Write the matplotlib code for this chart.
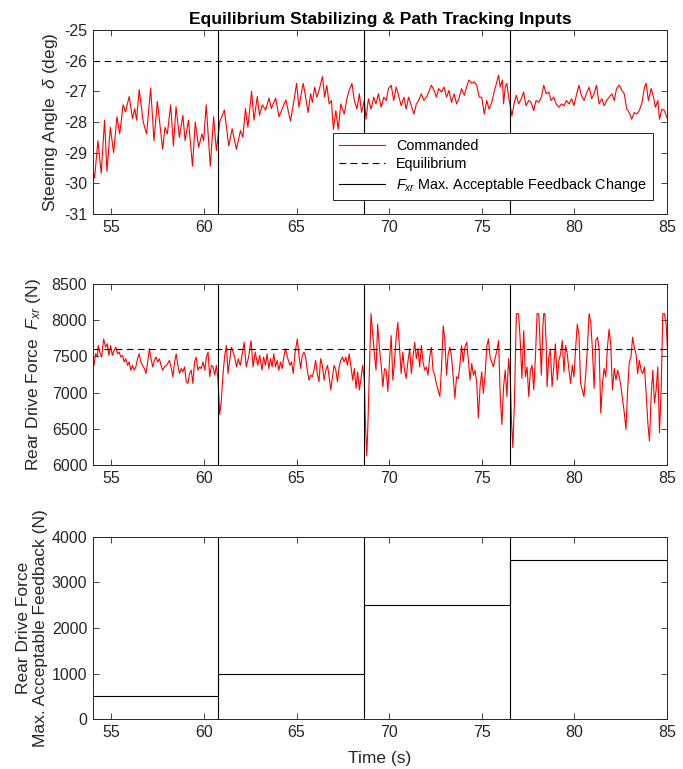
import matplotlib
matplotlib.use('Agg')
import matplotlib.pyplot as plt

plt.rcParams['font.family'] = ['Liberation Sans', 'DejaVu Sans']
plt.rcParams['mathtext.fontset'] = 'custom'
plt.rcParams['mathtext.rm'] = 'Liberation Sans'
plt.rcParams['mathtext.it'] = 'Liberation Sans:italic'
plt.rcParams['axes.unicode_minus'] = False

# times where the max. acceptable feedback change switches
breaks = [60.75, 68.65, 76.55]
steer_eq = -26.0
force_eq = 7600.0
limit_t = [54.0, 60.75, 68.65, 76.55, 85.0]
limit_n = [500, 1000, 2500, 3500, 3500]

steer_t = [
    54.00, 54.09, 54.27, 54.45, 54.63, 54.76, 54.94, 55.12, 55.30, 55.45,
    55.63, 55.76, 55.96, 56.14, 56.26, 56.36, 56.50, 56.72, 56.90, 57.12,
    57.30, 57.48, 57.77, 57.89, 58.02, 58.20, 58.35, 58.49, 58.67, 58.86,
    58.98, 59.16, 59.38, 59.53, 59.71, 59.89, 59.98, 60.12, 60.34, 60.52,
    60.67, 60.85, 61.10, 61.34, 61.52, 61.75, 61.97, 62.10, 62.24, 62.37,
    62.57, 62.70, 62.88, 63.00, 63.15, 63.33, 63.51, 63.64, 63.87, 64.05,
    64.42,
    64.67, 64.86, 65.00, 65.13, 65.25, 65.36, 65.49, 65.62, 65.76, 65.85,
    65.98, 66.09, 66.21, 66.40, 66.52, 66.63, 66.76, 66.88, 66.99, 67.12,
    67.25, 67.39, 67.57, 67.72, 67.84, 67.99, 68.12, 68.26, 68.39, 68.51,
    68.66, 68.75, 68.88, 69.02, 69.17, 69.29, 69.42, 69.57, 69.71, 69.84,
    69.96, 70.11, 70.25, 70.38, 70.51, 70.65, 70.80, 70.92, 71.05, 71.20,
    71.34, 71.47, 71.59, 71.74, 71.88, 72.01, 72.14, 72.28, 72.43, 72.55,
    72.68, 72.83, 72.97, 73.10, 73.23, 73.37, 73.51, 73.64, 73.77, 73.91,
    74.06, 74.18, 74.31, 74.46, 74.60, 74.73, 74.86,
    75.00, 75.14, 75.27, 75.40, 75.54, 75.69, 75.82, 75.91, 76.00, 76.12,
    76.18, 76.27, 76.36, 76.45, 76.54, 76.63, 76.76, 76.87, 76.99, 77.14,
    77.26, 77.39, 77.54, 77.66, 77.81, 77.93, 78.08, 78.22, 78.35, 78.48,
    78.62, 78.75, 78.89, 79.02, 79.17, 79.31, 79.44, 79.57, 79.71, 79.86,
    79.98, 80.11, 80.25, 80.38, 80.53, 80.65, 80.80, 80.94, 81.07, 81.20,
    81.34, 81.49, 81.61, 81.74, 81.88, 82.03, 82.16, 82.28, 82.43, 82.57,
    82.70, 82.83, 82.97, 83.10, 83.24, 83.37, 83.51, 83.66, 83.79, 83.88,
    84.00, 84.15, 84.28, 84.38, 84.51, 84.60, 84.73, 84.87, 85.00, 85.11,
]
steer_deg = [
    -29.56, -29.83, -28.61, -29.67, -27.94, -29.61, -28.17, -29.00, -27.83, -28.39,
    -27.44, -27.67, -27.17, -27.89, -27.56, -27.94, -26.94, -28.00, -28.39, -26.89,
    -28.61, -27.33, -28.89, -28.17, -28.39, -27.44, -28.78, -27.50, -28.50, -27.78,
    -28.61, -27.94, -29.44, -28.00, -28.83, -28.39, -28.61, -27.44, -29.44, -27.83,
    -28.94, -28.00, -27.61, -28.78, -28.22, -28.89, -28.28, -28.50, -27.56, -28.17,
    -27.00, -27.94, -27.17, -27.78, -27.44, -27.61, -27.22, -27.56, -27.22, -27.83,
    -27.28,
    -27.97, -27.30, -26.74, -27.52, -27.08, -26.74, -27.19, -27.69, -27.08, -27.36,
    -26.86, -27.19, -26.97, -26.52, -27.19, -26.80, -27.41, -27.30, -28.24, -27.63,
    -28.24, -27.41, -27.74, -27.24, -26.97, -26.74, -27.30, -27.58, -27.08, -27.69,
    -27.30, -27.91, -27.24, -27.58, -27.19, -27.41, -27.08, -27.52, -27.19, -27.30,
    -26.91, -26.80, -27.30, -26.86, -27.13, -27.47, -27.19, -27.58, -27.19, -27.47,
    -27.74, -27.41, -27.30, -27.08, -27.30, -27.19, -27.02, -26.80, -26.97, -27.19,
    -26.91, -27.02, -26.86, -27.19, -26.97, -27.36, -27.08, -27.41, -27.24, -26.91,
    -27.13, -26.86, -26.63, -26.74, -26.69, -26.80, -27.19,
    -27.19, -27.74, -27.30, -27.58, -27.36, -26.97, -26.69, -26.47, -26.86, -26.63,
    -27.41, -26.86, -26.74, -27.19, -27.47, -27.80, -27.36, -27.13, -27.41, -27.24,
    -27.02, -27.47, -27.30, -27.36, -27.63, -27.30, -27.36, -27.19, -26.80, -27.08,
    -27.02, -27.30, -27.19, -27.41, -27.52, -27.41, -27.47, -27.30, -27.41, -27.24,
    -27.47, -27.13, -26.80, -27.13, -27.30, -27.08, -26.86, -27.24, -27.08, -26.80,
    -27.41, -27.24, -27.47, -27.30, -27.19, -27.08, -27.30, -26.91, -26.80, -26.97,
    -27.08, -27.58, -27.69, -27.91, -27.69, -27.74, -27.63, -27.36, -26.86, -26.74,
    -27.30, -26.91, -27.19, -27.52, -27.30, -27.91, -27.58, -27.63, -27.86, -27.97,
]

force_t = [
    53.97, 54.06, 54.15, 54.24, 54.29, 54.37, 54.47, 54.58, 54.69, 54.78,
    54.87, 54.96, 55.05, 55.14, 55.24, 55.33, 55.42, 55.51, 55.60, 55.69,
    55.78, 55.87, 55.96, 56.05, 56.14, 56.23, 56.32, 56.41, 56.50, 56.59,
    56.68, 56.78, 56.87, 56.96, 57.05, 57.14, 57.23, 57.32, 57.41, 57.50,
    57.59, 57.68, 57.77, 57.86, 57.99, 58.13, 58.22, 58.32, 58.41, 58.50,
    58.59, 58.68, 58.77, 58.86, 58.95, 59.04, 59.13, 59.22, 59.31, 59.40,
    59.49, 59.58, 59.67, 59.76, 59.85, 59.95, 60.04, 60.13, 60.22, 60.31,
    60.40, 60.49, 60.58, 60.67, 60.76, 60.85, 60.94, 61.03, 61.12, 61.21,
    61.30, 61.39, 61.48, 61.58, 61.67, 61.76, 61.85,
    61.96, 62.05, 62.17, 62.28, 62.41, 62.54, 62.65, 62.77, 62.90, 63.01,
    63.13, 63.22, 63.32, 63.41, 63.50, 63.59, 63.68, 63.77, 63.86, 63.95,
    64.04, 64.13, 64.22, 64.31, 64.40, 64.53, 64.64, 64.73, 64.82, 64.91,
    65.04, 65.13, 65.22, 65.31, 65.40, 65.49, 65.58, 65.67, 65.76, 65.85,
    65.94, 66.03, 66.12, 66.21, 66.30, 66.39, 66.49, 66.58, 66.67, 66.76,
    66.85, 66.94, 67.03, 67.12, 67.21, 67.30, 67.39, 67.48, 67.57, 67.66,
    67.75, 67.84, 67.93, 68.03, 68.12, 68.21, 68.30, 68.39, 68.48, 68.57,
    68.66, 68.71, 68.79, 68.84, 68.93, 69.02, 69.11, 69.20, 69.29, 69.38,
    69.47, 69.57, 69.66, 69.75,
    69.84, 69.93, 70.02, 70.11, 70.20, 70.29, 70.38, 70.47, 70.56, 70.65,
    70.74, 70.83, 70.92, 71.01, 71.11, 71.20, 71.29, 71.38, 71.47, 71.56,
    71.65, 71.74, 71.83, 71.92, 72.01, 72.10, 72.19, 72.28, 72.37, 72.46,
    72.55, 72.64, 72.74, 72.83, 72.92, 73.01, 73.10, 73.19, 73.28, 73.37,
    73.46, 73.55, 73.64, 73.73, 73.82, 73.91, 74.00, 74.09, 74.19, 74.28,
    74.37, 74.46, 74.55, 74.64, 74.73, 74.82, 74.91, 75.00, 75.09, 75.18,
    75.27, 75.36, 75.45, 75.54, 75.63, 75.72, 75.82, 75.91, 76.00, 76.09,
    76.18, 76.27, 76.36, 76.45, 76.54, 76.61, 76.68, 76.77, 76.87, 76.99,
    77.08, 77.17, 77.27, 77.36, 77.45, 77.54, 77.63,
    77.72, 77.81, 77.90, 77.99, 78.08, 78.17, 78.22, 78.30, 78.35, 78.41,
    78.48, 78.53, 78.62, 78.71, 78.80, 78.89, 78.98, 79.08, 79.17, 79.26,
    79.35, 79.44, 79.53, 79.62, 79.71, 79.80, 79.89, 79.98, 80.07, 80.16,
    80.25, 80.34, 80.43, 80.52, 80.62, 80.71, 80.80, 80.89, 80.98, 81.07,
    81.16, 81.25, 81.34, 81.43, 81.52, 81.61, 81.70, 81.79, 81.88, 81.97,
    82.06, 82.16, 82.25, 82.34, 82.43, 82.52, 82.61, 82.70, 82.79, 82.88,
    82.97, 83.06, 83.15, 83.24, 83.33, 83.42, 83.51, 83.61, 83.70, 83.79,
    83.88, 83.97, 84.06, 84.15, 84.24, 84.33, 84.42, 84.51, 84.60, 84.69,
    84.78, 84.87, 84.96, 85.05, 85.14,
]
force_n = [
    7423, 7377, 7536, 7491, 7650, 7559, 7491, 7741, 7627, 7673,
    7514, 7650, 7514, 7582, 7627, 7536, 7559, 7491, 7514, 7423,
    7468, 7377, 7423, 7309, 7377, 7309, 7355, 7468, 7536, 7423,
    7377, 7332, 7264, 7423, 7605, 7468, 7355, 7445, 7491, 7423,
    7468, 7377, 7309, 7355, 7377, 7445, 7355, 7218, 7423, 7536,
    7377, 7264, 7332, 7286, 7355, 7150, 7127, 7264, 7309, 7127,
    7423, 7491, 7309, 7355, 7332, 7423, 7309, 7491, 7559, 7218,
    7377, 7355, 7241, 7377, 7173, 6696, 6900, 7264, 7514, 7650,
    7264, 7445, 7627, 7559, 7468, 7355, 7468,
    7377, 7514, 7695, 7355, 7491, 7718, 7355, 7559, 7377, 7514,
    7309, 7491, 7377, 7536, 7332, 7468, 7355, 7536, 7355, 7445,
    7309, 7423, 7332, 7491, 7605, 7468, 7377, 7423, 7264, 7536,
    7741, 7514, 7332, 7514, 7559, 7491, 7309, 7173, 7241, 7218,
    7309, 7445, 7264, 7150, 7468, 7377, 7173, 7309, 7377, 7218,
    7036, 7218, 7377, 7309, 7150, 7355, 7445, 7491, 7423, 7491,
    7377, 7536, 7377, 7173, 7332, 7059, 7286, 7036, 7195, 7377,
    7173, 6673, 6127, 6445, 7264, 8090, 7809, 7536, 7309, 7945,
    7627, 7377, 7082, 7332,
    7309, 7014, 7445, 7786, 7173, 7423, 7764, 7968, 7605, 7264,
    7559, 7309, 7195, 7423, 7605, 7264, 7491, 7695, 7468, 7605,
    7355, 7650, 7423, 7309, 7355, 7241, 7491, 7627, 7309, 7241,
    7127, 7036, 6945, 7355, 7923, 7718, 7241, 7536, 7627, 7491,
    7218, 6923, 7218, 7195, 7377, 7650, 7423, 7627, 7695, 7445,
    7173, 7400, 7241, 7309, 7127, 6650, 7082, 7286, 6991, 7241,
    7627, 7741, 7491, 7423, 7355, 7468, 7582, 7718, 6945, 6559,
    7082, 7309, 6945, 7468, 7218, 6582, 6241, 6900, 8090, 8090,
    7718, 7195, 7855, 7218, 7355, 6945, 7309,
    7377, 7036, 7491, 8090, 8090, 7582, 7241, 7900, 8090, 8090,
    7673, 7082, 7491, 7582, 7082, 7355, 7673, 7173, 7445, 7536,
    7718, 7286, 7650, 7536, 7309, 7127, 7377, 7218, 7605, 7945,
    7809, 7127, 7036, 6945, 7264, 7627, 8090, 7968, 7582, 7059,
    7718, 7764, 7605, 6718, 7127, 7332, 7218, 7627, 7877, 7650,
    7036, 7332, 7173, 7309, 7218, 7082, 6900, 6718, 6491, 7036,
    7423, 7491, 7764, 7627, 7536, 7264, 7445, 7309, 7264, 7355,
    6991, 6582, 6332, 6945, 7309, 6855, 7036, 7355, 6445, 7036,
    8090, 8090, 7945, 7491, 7059,
]

fig = plt.figure(figsize=(6.83, 7.69), dpi=100)
ax1 = fig.add_axes([0.136, 0.7217, 0.8404, 0.2393])
ax2 = fig.add_axes([0.136, 0.3953, 0.8404, 0.2354])
ax3 = fig.add_axes([0.136, 0.0650, 0.8404, 0.2367])

dark = '#262626'
for ax in (ax1, ax2, ax3):
    ax.set_xlim(54, 85)
    ax.set_xticks(range(55, 86, 5))
    ax.tick_params(direction='in', top=True, right=True, length=4, width=0.6,
                   labelsize=11.5, colors=dark, pad=4)
    for s in ax.spines.values():
        s.set_color(dark)
        s.set_linewidth(0.7)

# steering angle
ax1.plot(steer_t, steer_deg, color='red', lw=0.8, label='Commanded')
ax1.axhline(steer_eq, color='k', ls=(0, (6, 4)), lw=0.8, label='Equilibrium')
for i, b in enumerate(breaks):
    ax1.axvline(b, color='k', lw=0.8,
                label=r'$F_{xr}$ Max. Acceptable Feedback Change' if i == 0 else None)
ax1.set_ylim(-31, -25)
ax1.set_yticks(range(-31, -24))
ax1.set_ylabel(r'Steering Angle  $\delta$ (deg)', fontsize=12.5, color=dark, labelpad=3)
ax1.set_title('Equilibrium Stabilizing & Path Tracking Inputs',
              fontsize=12.5, fontweight='bold', pad=4)
leg = ax1.legend(loc='upper left', bbox_to_anchor=(0.418, 0.44), fontsize=10.4,
                 fancybox=False, framealpha=1, edgecolor=dark, handlelength=3.2,
                 labelspacing=0.32, borderaxespad=0, borderpad=0.4)
leg.get_frame().set_linewidth(0.7)

# rear drive force
ax2.plot(force_t, force_n, color='red', lw=0.8)
ax2.axhline(force_eq, color='k', ls=(0, (6, 4)), lw=0.8)
for b in breaks:
    ax2.axvline(b, color='k', lw=0.8)
ax2.set_ylim(6000, 8500)
ax2.set_yticks(range(6000, 8501, 500))
ax2.set_ylabel(r'Rear Drive Force  $F_{xr}$ (N)', fontsize=12.5, color=dark, labelpad=6)

# max acceptable feedback
ax3.step(limit_t, limit_n, where='post', color='k', lw=0.8)
for b in breaks:
    ax3.axvline(b, color='k', lw=0.8)
ax3.set_ylim(0, 4000)
ax3.set_yticks(range(0, 4001, 1000))
ax3.set_ylabel('Rear Drive Force\nMax. Acceptable Feedback (N)', fontsize=12.5,
               color=dark, labelpad=3, linespacing=1.1)
ax3.set_xlabel('Time (s)', fontsize=12.5, color=dark, labelpad=8)

fig.savefig('out.png', dpi=100)
